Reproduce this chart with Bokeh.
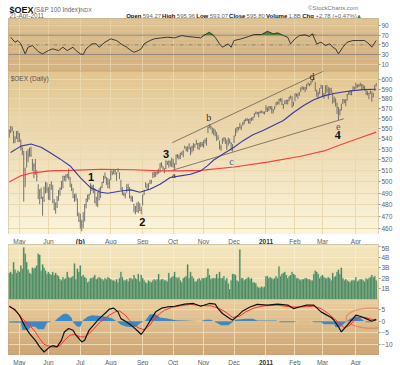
import numpy as np
import pandas as pd
from bokeh.plotting import figure
from bokeh.layouts import column
from bokeh.models import Range1d, FixedTicker, Label, Span, PolyAnnotation, Grid, NumeralTickFormatter
from bokeh.core.properties import value
from bokeh.embed import file_html
from bokeh.resources import INLINE

FONT = "Liberation Sans"

# ---------------- data ----------------
holidays = ["2010-05-31", "2010-07-05", "2010-09-06", "2010-11-25",
            "2010-12-24", "2011-01-17", "2011-02-21"]
dates = pd.bdate_range("2010-04-22", "2011-04-21")
dates = dates[~dates.isin(pd.to_datetime(holidays))]

close = [
    547.5, 551.4, 549.1, 536.2, 539.7, 546.7, 537.6,
    544.6, 531.6, 528.2, 511.1, 503.2, 525.3, 523.6, 530.8, 524.3, 514.5, 515.0, 507.7, 505.1, 485.4, 492.7, 486.4, 486.5, 483.8, 499.7, 493.5,
    485.0, 497.6, 499.6, 482.4, 475.9, 481.1, 478.2, 492.3, 494.5, 493.6, 505.2, 504.9, 505.5, 506.2, 504.3, 496.2, 494.7, 486.4, 487.8, 486.8, 471.7, 466.9,
    465.4, 463.2, 465.7, 480.3, 484.8, 488.3, 488.7, 496.2, 496.1, 496.7, 482.4, 485.3, 490.8, 484.5, 495.4, 499.5, 505.1, 504.6, 501.1, 499.0, 499.0,
    510.0, 507.6, 510.6, 510.0, 508.1, 510.9, 507.9, 493.5, 490.9, 488.9, 489.0, 494.9, 495.7, 487.2, 485.5, 483.5, 476.5, 478.0, 474.4, 482.3, 475.2, 475.3,
    488.3, 492.7, 499.2, 493.5, 496.7, 499.1, 501.5, 507.1, 506.7, 508.5, 508.4, 508.8, 516.5, 515.2, 512.7, 508.4, 519.2, 516.3, 518.8, 517.4, 515.8,
    517.6, 513.4, 524.2, 523.8, 523.0, 526.2, 526.2, 528.3, 532.0, 530.1, 531.1, 535.0, 526.5, 532.0, 533.0, 534.3, 535.4, 535.4, 534.0, 534.6, 534.4,
    534.2, 538.3, 540.3, 550.7, 552.9, 551.7, 547.2, 549.6, 547.3, 540.8, 540.2, 531.4, 531.5, 539.7, 541.1, 540.2, 532.5, 540.5, 536.4, 535.7, 532.5,
    542.7, 549.7, 551.1, 550.4, 550.7, 552.7, 554.9, 558.2, 558.2, 558.7, 555.8, 559.3, 559.8, 561.2, 564.6, 566.5, 565.6, 565.9, 566.3, 566.9, 566.1, 565.9,
    569.8, 569.1, 571.9, 570.7, 569.6, 568.9, 571.0, 576.1, 575.1, 579.4, 580.2, 574.3, 573.6, 575.0, 578.3, 578.5, 580.9, 582.2, 571.8, 576.2,
    585.2, 583.5, 584.9, 586.6, 590.3, 592.8, 591.1, 591.6, 594.8, 596.2, 594.3, 598.0, 599.8, 601.0, 588.6, 585.1, 584.5, 590.7, 593.9,
    582.6, 583.5, 593.6, 589.3, 584.3, 589.5, 588.7, 577.6, 581.7, 578.2, 571.7, 560.6, 568.1, 570.5, 579.1, 577.0, 578.7, 584.1, 586.0, 584.4, 588.5, 592.4, 591.3,
    593.6, 593.8, 593.7, 595.0, 594.1, 591.7, 590.1, 585.5, 585.6, 585.6, 587.9, 581.4, 584.8, 593.0, 595.8]

high = [
    549.0, 552.5, 552.0, 547.5, 542.5, 547.5, 547.8,
    545.5, 539.5, 532.0, 528.5, 513.0, 528.5, 530.0, 531.5, 532.5, 521.0, 517.0, 521.0, 510.5, 498.0, 493.5, 495.0, 487.0, 496.0, 500.0, 499.5,
    495.5, 498.0, 500.5, 497.5, 485.0, 482.0, 487.5, 493.0, 495.0, 501.0, 505.5, 505.5, 507.0, 507.5, 512.0, 504.5, 498.5, 494.5, 489.5, 490.0, 485.5, 473.5,
    472.5, 467.5, 474.0, 480.8, 485.5, 488.8, 489.5, 499.0, 497.5, 497.5, 494.5, 487.0, 491.0, 494.5, 496.0, 500.0, 505.5, 508.5, 504.5, 503.5, 502.5,
    510.5, 510.0, 511.5, 511.0, 508.5, 512.5, 508.5, 502.0, 495.5, 491.0, 490.5, 498.0, 498.5, 495.5, 488.0, 487.5, 481.0, 479.0, 482.0, 482.8, 481.5, 478.5,
    488.8, 493.0, 499.5, 498.5, 499.0, 502.0, 501.8, 509.0, 509.5, 509.0, 511.0, 512.0, 517.0, 518.0, 514.5, 512.5, 519.5, 519.0, 519.5, 519.5, 522.0,
    521.0, 517.0, 525.0, 525.5, 525.0, 526.8, 528.0, 529.0, 533.5, 532.5, 533.0, 535.5, 532.5, 533.5, 536.0, 535.0, 539.0, 536.0, 536.5, 537.0, 537.0,
    538.5, 540.0, 541.0, 552.0, 554.5, 553.0, 551.0, 550.0, 549.0, 546.5, 543.5, 538.5, 534.5, 540.5, 541.5, 541.0, 539.0, 541.0, 540.0, 536.5, 535.0,
    543.0, 550.0, 551.5, 551.5, 555.5, 553.0, 556.5, 558.5, 560.0, 560.5, 559.5, 560.0, 561.0, 561.5, 565.0, 566.8, 566.5, 566.5, 567.5, 568.0, 567.0, 567.0,
    573.5, 571.5, 572.5, 572.5, 572.5, 569.5, 572.5, 576.5, 577.0, 579.8, 580.5, 580.5, 574.5, 578.5, 578.8, 579.0, 582.0, 583.5, 582.5, 576.8,
    585.5, 585.5, 585.5, 587.0, 592.0, 593.0, 592.5, 592.0, 595.0, 597.0, 596.0, 599.0, 600.0, 602.8, 597.5, 589.5, 587.5, 591.0, 594.5,
    594.0, 586.0, 594.0, 594.5, 592.5, 591.5, 591.5, 586.5, 582.0, 580.5, 576.0, 571.5, 569.5, 575.0, 580.0, 579.5, 579.5, 585.0, 587.5, 589.0, 588.8, 592.8, 592.5,
    597.0, 595.0, 595.5, 597.0, 595.5, 595.0, 593.5, 590.0, 588.0, 586.0, 588.5, 587.5, 586.0, 594.5, 595.96]

low = [
    541.0, 545.5, 547.0, 535.8, 536.0, 540.0, 537.0,
    537.0, 529.0, 524.5, 482.8, 495.5, 513.0, 518.0, 523.0, 523.0, 510.0, 503.5, 506.5, 500.5, 485.0, 480.5, 485.0, 470.8, 482.5, 490.0, 490.5,
    484.5, 484.0, 493.0, 481.5, 475.5, 472.5, 477.5, 483.5, 488.0, 493.0, 494.5, 501.0, 500.5, 503.5, 502.0, 495.5, 492.0, 486.0, 482.5, 483.5, 470.5, 465.5,
    460.0, 458.0, 460.5, 466.0, 477.0, 482.5, 484.5, 489.0, 492.0, 490.0, 481.5, 479.0, 478.0, 484.0, 486.0, 494.5, 499.0, 502.5, 497.5, 494.5, 494.0,
    501.5, 506.0, 507.0, 506.5, 501.0, 508.5, 502.5, 493.0, 488.5, 487.5, 485.5, 490.5, 492.5, 485.5, 483.0, 482.5, 473.5, 472.0, 474.0, 473.0, 474.8, 472.0,
    479.5, 488.5, 495.0, 493.0, 493.5, 498.0, 498.5, 503.5, 504.0, 504.5, 506.5, 507.5, 508.5, 513.0, 511.0, 508.0, 511.5, 515.5, 513.0, 514.0, 513.5,
    513.0, 511.5, 515.5, 521.5, 520.5, 521.0, 524.5, 522.5, 530.5, 528.0, 527.5, 530.0, 524.5, 527.0, 528.5, 531.5, 534.5, 530.0, 529.5, 532.0, 532.5,
    531.5, 535.5, 533.5, 545.5, 550.5, 549.0, 545.0, 543.5, 542.5, 538.0, 539.0, 530.0, 528.5, 535.0, 537.5, 535.0, 529.5, 533.5, 535.5, 528.5, 528.0,
    536.0, 542.5, 546.0, 548.0, 550.0, 548.5, 553.0, 554.0, 557.0, 557.5, 555.0, 554.5, 557.5, 558.0, 561.0, 564.0, 564.0, 561.0, 565.0, 565.5, 564.5, 564.0,
    566.5, 566.5, 567.5, 569.0, 565.0, 565.0, 569.0, 572.5, 574.0, 574.0, 577.0, 573.5, 569.5, 574.5, 574.5, 574.0, 577.5, 580.0, 571.0, 572.5,
    577.5, 582.0, 580.0, 583.0, 587.0, 589.5, 589.0, 587.0, 589.5, 594.0, 593.0, 594.5, 597.5, 599.5, 588.0, 582.0, 580.5, 585.0, 590.5,
    582.0, 580.0, 584.5, 586.5, 579.5, 584.0, 586.0, 575.0, 576.0, 572.0, 564.5, 558.5, 563.0, 568.0, 574.5, 575.5, 572.5, 578.0, 584.0, 584.0, 583.5, 588.5, 589.5,
    590.5, 591.5, 592.0, 593.0, 589.5, 589.5, 588.5, 584.0, 583.5, 579.5, 585.0, 576.8, 581.5, 588.0, 593.07]

volume_b = [
    2.5, 2.6, 2.4, 3.5, 2.8, 2.5, 2.7,
    2.6, 3.2, 2.9, 4.9, 4.3, 3.5, 2.8, 2.5, 2.4, 3.0, 2.9, 3.0, 3.2, 4.3, 4.2, 2.7, 3.3, 3.0, 2.7, 2.4,
    2.6, 2.4, 2.3, 2.6, 2.3, 2.5, 2.3, 2.2, 1.9, 1.8, 2.1, 1.9, 2.0, 2.6, 2.1, 2.0, 2.1, 2.2, 3.4, 1.9, 2.9, 2.6,
    3.2, 2.2, 2.3, 2.1, 2.0, 1.6, 1.7, 2.0, 2.0, 2.1, 2.3, 1.9, 2.0, 2.1, 2.0, 1.9, 1.8, 2.0, 1.9, 2.1, 2.0,
    1.9, 1.8, 1.8, 1.7, 1.9, 1.6, 2.0, 2.6, 2.1, 1.8, 1.8, 1.9, 1.7, 2.0, 2.0, 1.9, 2.3, 2.0, 1.9, 2.4, 1.7, 2.3,
    2.0, 1.8, 1.6, 1.5, 1.8, 1.7, 1.6, 1.8, 1.9, 1.8, 1.9, 2.4, 1.8, 1.9, 1.9, 1.8, 1.8, 1.7, 2.5, 2.0, 2.1,
    2.2, 2.6, 2.1, 2.0, 2.1, 1.8, 1.6, 2.0, 2.1, 2.2, 3.3, 2.0, 2.6, 2.2, 2.0, 1.7, 1.7, 1.9, 2.0, 1.8, 2.0,
    2.0, 2.0, 2.1, 2.9, 2.3, 1.9, 2.0, 2.0, 2.0, 2.4, 2.0, 2.6, 2.0, 2.0, 2.2, 1.8, 2.0, 1.5, 1.0, 1.8, 2.4,
    2.4, 2.3, 1.8, 1.7, 4.7, 2.0, 2.0, 1.8, 1.9, 2.0, 2.1, 1.9, 2.0, 1.6, 1.6, 1.5, 1.2, 1.1, 1.1, 1.2, 1.1, 1.2,
    2.2, 2.2, 2.0, 2.1, 2.0, 1.9, 2.0, 2.2, 2.0, 3.1, 2.2, 2.4, 2.5, 2.6, 2.3, 2.0, 2.2, 2.3, 2.6, 2.4,
    2.3, 2.0, 2.0, 1.9, 1.8, 1.9, 1.9, 2.0, 2.0, 1.9, 1.9, 1.8, 1.8, 2.4, 2.7, 2.6, 2.4, 2.0, 2.2,
    2.3, 2.1, 2.0, 2.0, 2.1, 2.0, 1.8, 2.5, 2.1, 2.2, 2.6, 2.8, 2.4, 3.0, 2.0, 1.8, 1.9, 1.8, 1.7, 1.6, 1.8, 1.8, 1.8,
    2.1, 1.7, 1.8, 1.9, 1.9, 1.8, 1.7, 2.0, 1.9, 2.0, 2.1, 2.3, 2.1, 2.2, 1.8]

# moving averages (bar number, value)
ma50_bar = [1, 8, 15, 22, 28, 35, 42, 49, 56, 63, 68, 77, 84, 90, 97, 104, 111, 118, 125, 132, 137, 141,
            148, 155, 161, 168, 175, 182, 189, 196, 203, 210, 217, 224, 230, 237, 244, 253]
ma50_val = [527, 533, 535, 532, 527, 521, 514.5, 504, 495, 491, 490, 492, 493, 491, 493.5, 498, 504, 505.5, 507, 510, 515, 520,
            526, 532, 538, 544, 548, 553, 558, 566, 573, 579, 583, 585.5, 587, 588.5, 589.5, 590]
ma200_bar = [0, 8, 15, 28, 42, 63, 86, 104, 118, 132, 155, 178, 201, 217, 228, 241, 253]
ma200_val = [500, 505.5, 508, 510, 510.5, 511.5, 511, 510, 510, 510.5, 513.5, 518, 523.5, 528.5, 534, 540.5, 546.5]

# RSI(14)
rsi_bar = [1, 4, 6, 8, 11, 13, 16, 20, 23, 27, 30, 34, 37, 40, 44, 46, 49, 51, 53, 57, 60, 62, 66, 70, 74,
           77, 81, 84, 86, 89, 91, 93, 97, 100, 105, 109, 114, 119, 123, 128, 132, 136, 138, 142, 145, 147,
           151, 153, 155, 160, 165, 169, 174, 178, 182, 185, 189, 192, 194, 197, 200, 204, 207, 209, 212,
           215, 218, 221, 223, 225, 227, 230, 233, 237, 241, 245, 248, 250, 253]
rsi_val = [65.7, 55.4, 58.9, 52.1, 31.4, 45.1, 48.6, 36.0, 31.4, 38.2, 41.8, 38.2, 45.1, 38.2, 45.1, 38.2, 31.4, 30.0,
           41.8, 52.1, 52.1, 45.1, 55.4, 62.4, 58.9, 52.1, 45.1, 38.2, 34.7, 38.2, 41.8, 52.1, 58.9, 62.4, 64.4,
           65.7, 64.4, 69.2, 67.1, 65.7, 64.4, 72.7, 76.0, 65.7, 52.1, 45.1, 52.1, 45.1, 58.9, 62.4, 67.1, 71.3,
           71.3, 78.0, 72.7, 74.7, 69.2, 65.7, 52.1, 62.4, 69.2, 70.6, 67.1, 72.7, 52.1, 55.4, 48.6, 52.1, 45.1,
           41.8, 31.4, 45.1, 55.4, 58.9, 58.9, 58.9, 52.1, 45.1, 58.9]

# MACD(12,26,9)
macd_bar = [0, 4, 7, 11, 14, 18, 21, 24, 28, 30, 33, 36, 38, 41, 44, 46, 50, 52, 55, 59, 62, 66, 69, 72, 75, 77,
            81, 84, 88, 91, 94, 98, 101, 105, 109, 114, 121, 127, 132, 138, 142, 144, 147, 151, 154, 158, 161,
            166, 171, 178, 185, 192, 196, 200, 205, 210, 215, 219, 222, 224, 227, 229, 232, 236, 239, 243, 246, 250, 253]
macd_val = [6.4, 4.9, 2.6, -2.4, -5.3, -8.2, -11.0, -13.2, -11.0, -10.5, -11.0, -8.2, -4.6, -3.1, -3.9, -6.0, -8.9,
            -8.2, -3.9, -1.0, 1.1, 3.3, 5.2, 5.6, 4.0, 1.1, -0.3, -1.7, -3.9, -5.7, -3.1, 1.1, 4.0, 5.6, 6.1, 6.4,
            7.3, 7.6, 6.4, 7.6, 7.3, 5.4, 3.3, 1.6, 0.4, 2.6, 4.4, 6.1, 7.2, 6.9, 7.3, 6.9, 5.4, 6.1, 6.9, 6.9, 4.0,
            2.6, 1.6, 0.4, -2.4, -4.6, -2.4, 0.4, 2.6, 1.9, 1.1, 0.0, 0.8]
signal_bar = [0, 5, 9, 14, 18, 21, 24, 28, 31, 35, 38, 42, 45, 49, 52, 55, 59, 62, 66, 69, 73, 76, 80, 83, 86, 90,
              93, 97, 100, 104, 107, 112, 119, 125, 132, 139, 145, 150, 154, 159, 163, 169, 176, 185, 194, 201,
              210, 215, 220, 224, 228, 231, 235, 238, 241, 246, 250, 253]
signal_val = [6.4, 4.1, 1.1, -1.7, -4.6, -7.5, -9.9, -10.8, -11.2, -10.5, -8.2, -6.0, -5.7, -6.7, -6.7, -5.3, -2.9,
              -0.7, 1.1, 2.6, 4.0, 4.4, 2.6, 0.4, -1.7, -3.1, -3.6, -1.7, 1.1, 3.3, 4.7, 5.9, 6.7, 7.2, 6.7, 6.6,
              5.4, 3.6, 1.6, 2.2, 4.0, 5.7, 6.6, 6.9, 6.1, 6.1, 6.4, 5.4, 3.3, 1.1, -1.0, -2.9, -1.7, 0.4, 1.6, 1.5, 0.8, 0.4]
hist_bar = [0, 8, 9, 13, 15, 18, 20, 24, 26, 32, 33, 37, 39, 41, 43, 44, 47, 49, 51, 54, 57, 63, 68, 71, 74, 77,
            81, 86, 88, 90, 94, 97, 101, 104, 109, 115, 121, 132, 135, 139, 142, 146, 151, 154, 156, 163, 168,
            171, 184, 187, 196, 199, 208, 210, 215, 217, 224, 225, 228, 232, 235, 239, 242, 246, 249, 253]
hist_val = [-0.6, -0.7, -3.8, -3.8, -2.4, -2.4, -3.4, -3.4, -0.7, 0.3, 1.0, 3.0, 3.3, 2.8, 1.5, -0.5, -2.4, -2.4,
            0.5, 1.9, 2.6, 2.2, 1.8, 1.2, 0.0, -1.5, -2.4, -2.6, -2.2, -1.0, 0.4, 3.0, 3.0, 1.6, 1.2, 0.4, 0.3,
            0.0, 0.6, 0.6, -0.3, -1.7, -1.7, -0.5, 0.6, 1.0, 1.0, 0.3, 0.3, -0.4, -0.4, 0.1, 0.1, -0.4, -0.4,
            -1.3, -1.3, -2.6, -2.6, -0.4, 1.1, 2.1, 1.4, -0.4, -0.4, 0.4]

# hand-drawn annotations (bar number, price)
trend_upper_bar = [112.4, 223.8]
trend_upper_val = [536.3, 614.7]
trend_lower_bar = [112.4, 230.7]
trend_lower_val = [510.5, 559.7]
wave_text = ["1", "2", "3", "4", "a", "b", "c", "d", "e"]
wave_bar = [56.5, 91.7, 108.2, 226.5, 113.5, 137.6, 153.2, 208.8, 226.8]
wave_val = [504.3, 465.5, 525.2, 543.3, 505.9, 561.3, 518.7, 603.5, 552.4]
ellipse_center = [249.6, 1.3]
ellipse_size = [34.5, 8.6]

month_labels = ["May", "Jun", "Jul", "Aug", "Sep", "Oct", "Nov", "Dec", "2011", "Feb", "Mar", "Apr"]
price_ticks = list(range(460, 601, 10))
price_grid = list(range(460, 611, 10))
rsi_ticks = [10, 30, 50, 70, 90]
vol_ticks = [1, 2, 3, 4, 5]
vol_tick_labels = ["1B", "2B", "3B", "4B", "5B"]
macd_ticks = [-10, -5, 0, 5]

n = len(dates)
for name, arr in [("close", close), ("high", high), ("low", low), ("volume", volume_b)]:
    if len(arr) != n:
        raise ValueError(f"{name} has {len(arr)} values, expected {n}")

bars = np.arange(n)
mon = dates.month
month_ticks = [i for i in range(1, n) if mon[i] != mon[i - 1]]

# ---------------- layout helpers ----------------
FW = 370
LB, RB = 8, 22
XR = Range1d(-0.5, 254.6)
LBL_COLOR = "#5e5e5e"


def hexrgb(h):
    return np.array([int(h[i:i + 2], 16) for i in (1, 3, 5)], dtype=float)


def gradient(p, y0, y1, c_bottom, c_top, nb=40, log=False):
    edges = np.geomspace(y0, y1, nb + 1) if log else np.linspace(y0, y1, nb + 1)
    a, b = hexrgb(c_bottom), hexrgb(c_top)
    cols = []
    for i in range(nb):
        t = (i + 0.5) / nb
        r, g, bb = (a + (b - a) * t).round().astype(int)
        cols.append(f"#{r:02x}{g:02x}{bb:02x}")
    p.quad(left=-5, right=260, bottom=edges[:-1], top=edges[1:], fill_color=cols,
           line_color=cols, line_width=0.6, level="image")


def panel(fh, yr, ytype="linear", grid_color="#f1e2bd", hticks=None):
    p = figure(frame_width=FW, frame_height=fh, x_range=XR, y_range=yr, y_axis_type=ytype,
               y_axis_location="right", x_axis_location=None,
               toolbar_location=None, output_backend="svg",
               min_border_left=LB, min_border_right=RB, min_border_top=0, min_border_bottom=0,
               border_fill_color="white", background_fill_color="white",
               outline_line_color="#b4a890", outline_line_width=1)
    for g in p.grid:
        g.visible = False
    p.add_layout(Grid(dimension=0, ticker=FixedTicker(ticks=month_ticks),
                      grid_line_color=grid_color, grid_line_width=1))
    if hticks is not None:
        p.add_layout(Grid(dimension=1, ticker=FixedTicker(ticks=hticks),
                          grid_line_color=grid_color, grid_line_width=1))
    ax = p.yaxis[0]
    ax.axis_line_color = None
    ax.major_tick_out = 2
    ax.major_tick_in = 0
    ax.minor_tick_out = 0
    ax.minor_tick_in = 0
    ax.major_tick_line_color = "#9a9a9a"
    ax.major_label_standoff = 1
    ax.major_label_text_font = FONT
    ax.major_label_text_font_size = "6.5px"
    ax.major_label_text_color = LBL_COLOR
    return p


def strip(h):
    s = figure(frame_width=FW, frame_height=h, x_range=XR, y_range=Range1d(0, 1),
               x_axis_type=None, y_axis_type=None, toolbar_location=None, output_backend="svg",
               min_border_left=LB, min_border_right=RB, min_border_top=0, min_border_bottom=0,
               outline_line_color=None, background_fill_color="white", border_fill_color="white")
    s.grid.visible = False
    return s


def month_row(s, special=None):
    keep_t, keep_l = [], []
    for t, l in zip(month_ticks, month_labels):
        if l == "2011" or (special is not None and l == "Jul"):
            continue
        keep_t.append(t)
        keep_l.append(l)
    s.text(x=keep_t, y=0.5, text=keep_l, text_font=value(FONT), text_font_size="6.5px",
           text_color=LBL_COLOR, text_align="center", text_baseline="middle")
    jt = month_ticks[month_labels.index("2011")]
    s.text(x=[jt], y=0.5, text=["2011"], text_font=value(FONT), text_font_size="6.5px",
           text_font_style="bold", text_color="#333", text_align="center", text_baseline="middle")


# ---------------- header ----------------
REG = {' ': 278, '(': 333, ')': 333, '+': 584, '-': 333, '.': 278, '%': 889, '&': 667, 'A': 667, 'B': 667,
       'C': 722, 'D': 722, 'I': 278, 'N': 722, 'P': 667, 'S': 667, 'X': 667, 'a': 556, 'c': 500, 'd': 556,
       'e': 556, 'h': 556, 'k': 500, 'm': 833, 'n': 556, 'o': 556, 'p': 556, 'r': 333, 's': 500, 't': 278,
       'x': 500, '\u00a9': 737, '\u25b2': 700}
BOLD = {' ': 278, 'C': 722, 'E': 667, 'H': 722, 'L': 611, 'O': 778, 'V': 667, 'X': 667, '$': 556, 'c': 556,
        'e': 556, 'g': 611, 'h': 611, 'i': 278, 'l': 278, 'm': 889, 'n': 611, 'o': 611, 'p': 611, 's': 556,
        'u': 611, 'w': 778}


def tw(s, size, bold=False):
    t = BOLD if bold else REG
    return sum(t.get(ch, 556) for ch in s) * size / 1000.0


HW, HH = 400, 18
hd = figure(width=HW, height=HH, x_range=Range1d(0, HW), y_range=Range1d(HH, 0),
            x_axis_type=None, y_axis_type=None, toolbar_location=None, output_backend="svg",
            min_border=0, outline_line_color=None, background_fill_color="white",
            border_fill_color="white")
hd.grid.visible = False


def htext(x, y, text, size, color="#222", bold=False, align="left"):
    hd.text(x=[x], y=[y], text=[text], text_font=value(FONT), text_font_size=f"{size}px",
            text_color=color, text_font_style="bold" if bold else "normal",
            text_align=align, text_baseline="alphabetic")


L1, L2 = 9.0, 15.3
x = 1
htext(x, L1, "$OEX", 9, "#111", True)
x += tw("$OEX", 9, True) + 2.5
htext(x, L1, "(S&P 100 Index)", 6.3, "#666")
x += tw("(S&P 100 Index)", 6.3) + 2.5
htext(x, L1, "INDX", 5.3, "#666")
htext(378, 7.5, "\u00a9StockCharts.com", 6, "#777", align="right")
htext(1, L2, "21-Apr-2011", 6.3, "#666")

pieces = [("Open", True), ("594.27", False), ("High", True), ("595.96", False), ("Low", True),
          ("593.07", False), ("Close", True), ("595.80", False), ("Volume", True), ("1.8B", False),
          ("Chg", True), ("+2.78 (+0.47%)", False), ("\u25b2", False)]
FS = 6.0
GAP = 2.6
total = sum(tw(s, FS, b) for s, b in pieces) + GAP * (len(pieces) - 1)
x = 380 - total
for s, b in pieces:
    col = "#111" if b else "#666"
    if s == "\u25b2":
        col = "#2e8b2e"
    htext(x, L2, s, FS, col, b)
    x += tw(s, FS, b) + GAP

# ---------------- RSI panel ----------------
rsi = panel(53, Range1d(-4.9, 104.3), grid_color="#e6cea2", hticks=[10, 90])
gradient(rsi, -4.9, 104.3, "#d3ae7b", "#ddc293")
rsi.yaxis[0].ticker = FixedTicker(ticks=rsi_ticks)
for lvl in (70, 30):
    rsi.add_layout(Span(location=lvl, dimension="width", line_color="#8f877c", line_width=1, level="underlay"))
rsi.add_layout(Span(location=50, dimension="width", line_color="#8f877c", line_width=1,
                    line_dash="4 2 1 2", level="underlay"))
rv = np.array(rsi_val)
rsi.varea(x=rsi_bar, y1=70, y2=np.maximum(rv, 70), fill_color="#4f8540")
rsi.line(rsi_bar, rsi_val, line_color="#2a2a2a", line_width=0.9)

# ---------------- price panel ----------------
PLO, PHI = 455.3, 608.9
pr = panel(163, Range1d(PLO, PHI), ytype="log", grid_color="#ead8ae", hticks=price_grid)
gradient(pr, PLO, PHI, "#fbf5dc", "#e2c591", log=True)
pr.yaxis[0].ticker = FixedTicker(ticks=price_ticks)
pr.yaxis[0].formatter = NumeralTickFormatter(format="0")

pr.line(trend_upper_bar, trend_upper_val, line_color="#6a5f52", line_width=0.8)
pr.line(trend_lower_bar, trend_lower_val, line_color="#6a5f52", line_width=0.8)
pr.segment(x0=bars, y0=low, x1=bars, y1=high, line_color="#666666", line_width=0.9)
pr.segment(x0=bars, y0=close, x1=bars + 0.45, y1=close, line_color="#666666", line_width=0.8)
pr.line(ma200_bar, ma200_val, line_color="#ff3b3b", line_width=1.1)
pr.line(ma50_bar, ma50_val, line_color="#3b3ba0", line_width=1.1)

pr.add_layout(Label(x=1, y=601.5, text="$OEX (Daily)", text_font=FONT, text_font_size="6.5px",
                    text_color="#555", text_baseline="middle"))
styles = {"1": ("bold", 11, FONT, "#111"), "2": ("bold", 11, FONT, "#111"), "3": ("bold", 11, FONT, "#111"),
          "4": ("bold", 12, "Liberation Serif", "#111"), "a": ("normal", 9, "Liberation Serif", "#3b2e22"),
          "b": ("normal", 10, "Liberation Serif", "#3b2e22"), "c": ("normal", 10, "Liberation Serif", "#3e6a98"),
          "d": ("normal", 10, "Liberation Serif", "#3b2e22"), "e": ("normal", 10, "Liberation Serif", "#3e5a86")}
for t, bx, by in zip(wave_text, wave_bar, wave_val):
    st, sz, fnt, colr = styles[t]
    pr.add_layout(Label(x=bx, y=by, text=t, text_font=fnt, text_font_size=f"{sz}px", text_font_style=st,
                        text_color=colr, text_align="center", text_baseline="middle"))

# price date row with the "(b)" mark over July
ps = strip(10)
month_row(ps, special="Jul")
jul_tick = month_ticks[month_labels.index("Jul")]
ps.text(x=[jul_tick], y=0.5, text=["(b)"], text_font=value(FONT), text_font_size="7px",
        text_font_style="bold", text_color="#1d2b5c", text_align="center", text_baseline="middle")

# ---------------- volume panel ----------------
vol = panel(55, Range1d(0, 5.18), grid_color="#f6ebcd", hticks=vol_ticks)
gradient(vol, 0, 5.18, "#ead4a4", "#f4e6bd")
vol.yaxis[0].ticker = FixedTicker(ticks=vol_ticks)
vol.yaxis[0].major_label_overrides = {t: l for t, l in zip(vol_ticks, vol_tick_labels)}
vol.vbar(x=bars, top=volume_b, bottom=0, width=0.9, fill_color="#3d7b56", line_color="#86bd92", line_width=0.35)

# ---------------- MACD panel ----------------
MLO, MHI = -14.7, 9.3
mac = panel(56, Range1d(MLO, MHI), grid_color="#eed9ae", hticks=macd_ticks)
gradient(mac, MLO, MHI, "#cda271", "#e9cf9f")
mac.yaxis[0].ticker = FixedTicker(ticks=macd_ticks)
mac.varea(x=hist_bar, y1=0, y2=hist_val, fill_color="#3f89c3")
mac.line(signal_bar, signal_val, line_color="#ff3030", line_width=1.0)
mac.line(macd_bar, macd_val, line_color="#111111", line_width=1.2)
tt = np.linspace(0, 2 * np.pi, 73)
ex = ellipse_center[0] + ellipse_size[0] / 2 * np.cos(tt)
ey = ellipse_center[1] + ellipse_size[1] / 2 * np.sin(tt)
mac.add_layout(PolyAnnotation(xs=list(ex), ys=list(ey), fill_color=None, fill_alpha=0,
                              line_color="#e8201c", line_width=1.4))

bs = strip(10)
month_row(bs)

layout = column(hd, rsi, pr, ps, vol, mac, bs, spacing=0)
open("out.html", "w").write(file_html(layout, INLINE))
